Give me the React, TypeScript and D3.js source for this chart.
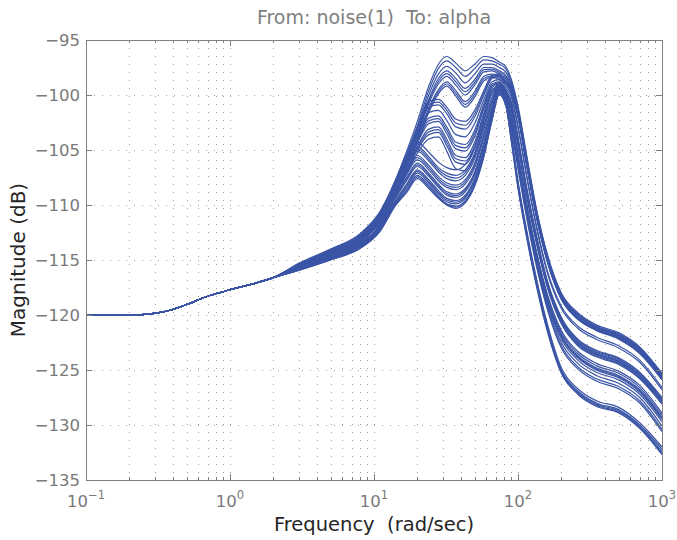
import React from "react";
import * as d3 from "d3";

// ---- data (rad/sec, dB) ----
const LOW_FREQ = [0.1, 0.2, 0.3, 0.4, 0.5, 0.7, 1, 1.5, 2];
const LOW_MAG = [-120, -120, -119.85, -119.5, -119.05, -118.3, -117.7, -117.1, -116.6];

const HIGH_FREQ = [3, 5, 8, 11, 14, 17, 20, 24, 28, 32, 37, 43, 50, 58, 66, 74, 82, 90, 100, 115, 135, 160, 200, 260, 350, 500, 700, 1000];

const curve00 = [-115.3, -114.0, -112.6, -110.6, -107.8, -105.0, -102.4, -99.2, -97.2, -96.5, -97.1, -97.8, -97.2, -96.5, -96.6, -97.0, -97.4, -98.6, -101.0, -105.5, -110.5, -114.5, -118.0, -119.8, -120.9, -121.6, -122.9, -125.3];
const curve01 = [-115.35, -114.05, -112.7, -110.7, -107.9, -105.2, -102.8, -99.6, -97.6, -96.9, -97.5, -98.3, -97.6, -96.8, -96.9, -97.2, -97.6, -98.8, -101.2, -105.7, -110.6, -114.6, -118.1, -119.9, -121.0, -121.7, -123.0, -125.4];
const curve02 = [-115.4, -114.1, -112.75, -110.8, -108.0, -105.4, -103.1, -100.0, -98.1, -97.4, -98.0, -98.9, -98.1, -97.2, -97.2, -97.5, -97.9, -99.0, -101.4, -105.9, -110.7, -114.7, -118.2, -120.0, -121.1, -121.8, -123.1, -125.5];
const curve03 = [-115.4, -114.15, -112.8, -110.85, -108.1, -105.6, -103.4, -100.4, -98.5, -97.8, -98.5, -99.4, -98.6, -97.5, -97.5, -97.8, -98.2, -99.2, -101.5, -106.0, -110.8, -114.8, -118.2, -120.0, -121.1, -121.8, -123.1, -125.5];
const curve04 = [-115.45, -114.2, -112.9, -110.9, -108.2, -105.8, -103.7, -100.8, -99.0, -98.3, -99.1, -100.0, -99.1, -97.9, -97.8, -98.1, -98.5, -99.4, -101.7, -106.1, -110.9, -114.9, -118.3, -120.1, -121.2, -121.9, -123.2, -125.6];
const curve05 = [-115.45, -114.25, -112.95, -111.0, -108.3, -106.0, -104.0, -101.2, -99.5, -98.8, -99.6, -100.6, -99.7, -98.3, -98.1, -98.3, -98.8, -99.6, -101.8, -106.2, -111.0, -115.0, -118.4, -120.2, -121.3, -122.0, -123.3, -125.7];
const curve06 = [-115.5, -114.3, -113.0, -111.05, -108.4, -106.2, -104.3, -101.6, -99.9, -99.2, -100.1, -101.1, -100.2, -98.7, -98.4, -98.6, -99.0, -99.8, -102.0, -106.3, -111.1, -115.1, -118.5, -120.3, -121.4, -122.1, -123.4, -125.8];
const curve07 = [-115.5, -114.35, -113.05, -111.1, -108.3, -105.6, -103.0, -100.6, -100.4, -101.1, -102.2, -102.4, -101.4, -99.6, -98.2, -98.1, -98.7, -99.4, -101.8, -106.3, -111.1, -115.1, -118.5, -120.3, -121.3, -122.0, -123.4, -125.8];
const curve08 = [-115.55, -114.4, -113.1, -111.2, -108.5, -105.9, -103.4, -101.1, -100.9, -101.7, -102.9, -103.1, -102.0, -100.0, -98.5, -98.3, -98.9, -99.6, -102.0, -106.5, -111.3, -115.2, -118.6, -120.4, -121.4, -122.2, -123.5, -125.9];
const curve09 = [-115.55, -114.45, -113.15, -111.3, -108.6, -106.1, -103.8, -101.6, -101.4, -102.3, -103.6, -103.8, -102.6, -100.4, -98.8, -98.6, -99.2, -100.0, -102.8, -107.3, -112.0, -116.0, -119.2, -121.0, -122.0, -122.8, -124.1, -126.6];
const curve10 = [-115.6, -114.5, -113.2, -111.35, -108.7, -106.3, -104.1, -102.1, -101.9, -102.9, -104.3, -104.5, -103.2, -100.8, -99.0, -98.8, -99.4, -100.2, -103.0, -107.5, -112.2, -116.2, -119.4, -121.2, -122.2, -123.0, -124.3, -126.8];
const curve11 = [-115.6, -114.55, -113.25, -111.4, -108.8, -106.5, -104.4, -102.6, -102.4, -103.5, -104.9, -105.1, -103.8, -101.2, -99.3, -99.0, -99.6, -100.8, -104.0, -108.6, -113.0, -117.0, -120.3, -122.3, -123.3, -124.0, -125.3, -127.6];
const curve12 = [-115.65, -114.6, -113.3, -111.5, -108.9, -106.7, -104.7, -103.1, -102.9, -104.0, -105.5, -105.7, -104.3, -101.6, -99.5, -99.2, -99.8, -101.0, -104.2, -108.8, -113.2, -117.2, -120.5, -122.5, -123.5, -124.2, -125.5, -127.8];
const curve13 = [-115.65, -114.65, -113.35, -111.55, -109.0, -106.9, -105.0, -103.6, -103.4, -104.6, -106.1, -106.3, -104.9, -102.0, -99.7, -99.3, -99.9, -101.2, -104.4, -109.0, -113.4, -117.3, -120.6, -122.6, -123.6, -124.3, -125.6, -127.9];
const curve14 = [-115.7, -114.7, -113.4, -111.6, -109.1, -107.1, -105.3, -104.0, -103.8, -105.1, -106.7, -106.9, -105.4, -102.4, -99.9, -99.5, -100.1, -101.4, -104.6, -109.2, -113.6, -117.5, -120.8, -122.8, -123.8, -124.5, -125.8, -128.1];
const curve15 = [-115.7, -114.7, -113.45, -111.7, -108.3, -105.5, -104.3, -105.2, -106.1, -106.6, -106.8, -106.3, -104.8, -102.3, -100.2, -98.8, -99.6, -101.0, -104.2, -108.8, -113.2, -117.2, -120.4, -122.4, -123.4, -124.1, -125.4, -127.7];
const curve16 = [-115.7, -114.75, -113.5, -111.75, -108.5, -105.9, -104.7, -105.6, -106.6, -107.1, -107.3, -106.8, -105.3, -102.7, -100.5, -99.0, -99.8, -101.3, -104.5, -109.1, -113.5, -117.4, -120.7, -122.7, -123.7, -124.4, -125.7, -128.0];
const curve17 = [-115.75, -114.75, -113.55, -111.85, -108.7, -106.3, -105.1, -106.0, -107.0, -107.6, -107.8, -107.3, -105.8, -103.1, -100.8, -99.1, -99.9, -102.0, -105.5, -110.0, -114.5, -118.3, -121.6, -123.5, -124.6, -125.3, -126.6, -129.1];
const curve18 = [-115.75, -114.8, -113.6, -111.9, -108.9, -106.7, -105.5, -106.4, -107.4, -108.0, -108.2, -107.7, -106.2, -103.5, -101.1, -99.3, -100.1, -102.2, -105.7, -110.2, -114.7, -118.5, -121.8, -123.7, -124.8, -125.5, -126.8, -129.3];
const curve19 = [-115.8, -114.8, -113.65, -112.0, -109.1, -107.1, -105.9, -106.8, -107.8, -108.4, -108.6, -108.1, -106.6, -103.9, -101.4, -99.4, -100.2, -102.4, -105.9, -110.4, -114.9, -118.7, -122.0, -123.9, -125.0, -125.7, -127.0, -129.5];
const curve20 = [-115.8, -114.85, -113.7, -112.05, -109.3, -107.4, -106.2, -107.1, -108.1, -108.8, -109.0, -108.5, -107.0, -104.3, -101.6, -99.5, -100.3, -102.6, -106.1, -110.6, -115.1, -118.9, -122.2, -124.1, -125.2, -125.9, -127.2, -129.7];
const curve21 = [-115.85, -114.85, -113.75, -112.1, -109.5, -107.7, -106.5, -107.4, -108.4, -109.1, -109.3, -108.8, -107.3, -104.6, -101.8, -99.6, -100.4, -102.9, -106.5, -111.0, -115.5, -119.3, -122.8, -124.7, -125.8, -126.5, -127.8, -130.4];
const curve22 = [-115.85, -114.9, -113.8, -112.2, -109.7, -108.0, -106.8, -107.7, -108.7, -109.4, -109.6, -109.1, -107.6, -104.9, -102.0, -99.7, -100.5, -103.1, -106.7, -111.2, -115.7, -119.5, -123.0, -124.9, -126.0, -126.7, -128.0, -130.6];
const curve23 = [-115.9, -114.9, -113.85, -112.3, -109.9, -108.3, -107.1, -108.0, -109.0, -109.7, -109.9, -109.4, -107.9, -105.2, -102.1, -99.8, -100.7, -103.8, -108.0, -112.5, -117.0, -121.0, -125.0, -126.9, -128.0, -128.6, -130.0, -132.2];
const curve24 = [-115.9, -114.95, -113.9, -112.35, -110.0, -108.5, -107.3, -108.2, -109.2, -109.9, -110.1, -109.6, -108.1, -105.4, -102.2, -99.9, -100.8, -104.0, -108.2, -112.7, -117.2, -121.2, -125.1, -127.0, -128.1, -128.7, -130.1, -132.4];
const curve25 = [-115.95, -115.0, -113.95, -112.4, -110.1, -108.8, -107.6, -108.5, -109.4, -110.0, -110.3, -109.8, -108.3, -105.6, -102.3, -100.0, -100.9, -104.3, -108.5, -113.0, -117.5, -121.5, -125.3, -127.2, -128.3, -128.9, -130.3, -132.7];
const curve26 = [-115.42, -114.17, -112.85, -110.88, -108.15, -105.7, -103.55, -100.6, -98.75, -98.05, -98.8, -99.7, -98.85, -97.7, -97.65, -97.95, -98.35, -99.3, -101.6, -106.05, -110.85, -114.85, -118.25, -120.05, -121.15, -121.85, -123.15, -125.55];
const curve27 = [-115.48, -114.28, -112.98, -111.02, -108.35, -106.1, -104.15, -101.4, -99.7, -99.0, -99.85, -100.85, -99.95, -98.5, -98.25, -98.45, -98.9, -99.7, -101.9, -106.25, -111.05, -115.05, -118.45, -120.25, -121.35, -122.05, -123.35, -125.75];
const curve28 = [-115.52, -114.38, -113.08, -111.15, -108.4, -105.75, -103.2, -100.85, -100.65, -101.4, -102.55, -102.75, -101.7, -99.8, -98.35, -98.2, -98.8, -99.5, -101.9, -106.4, -111.2, -115.15, -118.55, -120.35, -121.35, -122.1, -123.45, -125.85];
const curve29 = [-115.6, -114.52, -113.22, -111.38, -108.75, -106.4, -104.25, -102.35, -102.15, -103.2, -104.6, -104.8, -103.5, -101.0, -99.15, -98.9, -99.5, -100.6, -103.8, -108.4, -112.9, -116.9, -120.2, -122.2, -123.2, -123.9, -125.2, -127.5];
const curve30 = [-115.65, -114.62, -113.32, -111.52, -108.95, -106.8, -104.85, -103.35, -103.15, -104.3, -105.8, -106.0, -104.6, -101.8, -99.6, -99.25, -99.85, -101.1, -104.3, -108.9, -113.3, -117.25, -120.55, -122.55, -123.55, -124.25, -125.55, -127.85];
const curve31 = [-115.72, -114.75, -113.52, -111.8, -108.6, -106.1, -104.9, -105.8, -106.8, -107.35, -107.55, -107.05, -105.55, -102.9, -100.65, -99.05, -99.85, -101.8, -105.3, -109.8, -114.3, -118.1, -121.4, -123.3, -124.4, -125.1, -126.4, -128.9];
const curve32 = [-115.78, -114.8, -113.62, -111.95, -109.0, -106.9, -105.7, -106.6, -107.6, -108.2, -108.4, -107.9, -106.4, -103.7, -101.25, -99.35, -100.15, -102.3, -105.8, -110.3, -114.8, -118.6, -121.9, -123.8, -124.9, -125.6, -126.9, -129.4];
const curve33 = [-115.82, -114.85, -113.72, -112.08, -109.4, -107.55, -106.35, -107.25, -108.25, -108.95, -109.15, -108.65, -107.15, -104.45, -101.7, -99.55, -100.35, -102.8, -106.3, -110.8, -115.3, -119.1, -122.5, -124.4, -125.5, -126.2, -127.5, -130.1];
const curve34 = [-115.88, -114.9, -113.82, -112.25, -109.8, -108.15, -106.95, -107.85, -108.85, -109.55, -109.75, -109.25, -107.75, -105.05, -102.05, -99.75, -100.6, -103.6, -107.8, -112.3, -116.8, -120.8, -124.8, -126.7, -127.8, -128.4, -129.8, -132.0];
const curve35 = [-115.92, -114.98, -113.92, -112.38, -110.05, -108.65, -107.45, -108.35, -109.3, -109.95, -110.2, -109.7, -108.2, -105.5, -102.25, -99.95, -100.85, -104.15, -108.35, -112.85, -117.35, -121.35, -125.2, -127.1, -128.2, -128.8, -130.2, -132.55];

const CURVES = [
  curve00, curve01, curve02, curve03, curve04, curve05, curve06, curve07, curve08,
  curve09, curve10, curve11, curve12, curve13, curve14, curve15, curve16, curve17,
  curve18, curve19, curve20, curve21, curve22, curve23, curve24, curve25, curve26,
  curve27, curve28, curve29, curve30, curve31, curve32, curve33, curve34, curve35,
];

const Y_TICKS = [-135, -130, -125, -120, -115, -110, -105, -100, -95];
const X_DECADES = [-1, 0, 1, 2, 3];
const TITLE = "From: noise(1)\u00a0 To: alpha";
const X_LABEL = "Frequency\u00a0 (rad/sec)";
const Y_LABEL = "Magnitude (dB)";

// ---- layout ----
const W = 677;
const H = 540;
const L = 86;
const R = 662;
const T = 40;
const B = 480;
const LINE_COLOR = "#3b55a6";
const AXIS_COLOR = "#7f7f7f";
const FONT = "'DejaVu Sans', sans-serif";

export default function App() {
  const x = d3.scaleLog().domain([0.1, 1000]).range([L, R]);
  const y = d3.scaleLinear().domain([-135, -95]).range([B, T]);

  const minorX: number[] = [];
  X_DECADES.slice(0, -1).forEach((e) => {
    for (let k = 2; k <= 9; k++) minorX.push(k * Math.pow(10, e));
  });
  const majorX = X_DECADES.map((e) => Math.pow(10, e));

  const line = d3
    .line<[number, number]>()
    .x((d) => x(d[0]))
    .y((d) => y(d[1]))
    .curve(d3.curveMonotoneX);

  const series = CURVES.map((c) => {
    const pts: [number, number][] = [];
    LOW_FREQ.forEach((f, i) => pts.push([f, LOW_MAG[i]]));
    HIGH_FREQ.forEach((f, i) => pts.push([f, c[i]]));
    return pts;
  });

  const px = (v: number) => Math.round(v) + 0.5;

  return (
    <svg
      width={W}
      height={H}
      style={{ position: "absolute", left: 0, top: 0, background: "#fff" }}
      fontFamily={FONT}
    >
      <rect x={0} y={0} width={W} height={H} fill="#fff" />
      <defs>
        <clipPath id="plotclip">
          <rect x={L} y={T} width={R - L} height={B - T} />
        </clipPath>
      </defs>

      {/* grid */}
      <g stroke="#a0a0a0" strokeWidth={1} fill="none">
        {[...minorX, ...majorX.slice(1, -1)].map((v, i) => (
          <line key={"gx" + i} x1={px(x(v))} x2={px(x(v))} y1={T} y2={B} strokeDasharray="1,7" />
        ))}
        {Y_TICKS.slice(1, -1).map((v, i) => (
          <line key={"gy" + i} x1={L} x2={R} y1={px(y(v))} y2={px(y(v))} strokeDasharray="1,7" />
        ))}
      </g>

      {/* curves */}
      <g clipPath="url(#plotclip)" fill="none" stroke={LINE_COLOR} strokeWidth={1.2}>
        {series.map((s, i) => (
          <path key={i} d={line(s) || ""} />
        ))}
      </g>

      {/* axes box and ticks */}
      <g stroke={AXIS_COLOR} strokeWidth={1} fill="none">
        <rect x={px(L)} y={px(T)} width={R - L} height={B - T} />
        {Y_TICKS.map((v, i) => (
          <g key={"ty" + i}>
            <line x1={L} x2={L + 6} y1={px(y(v))} y2={px(y(v))} />
            <line x1={R - 6} x2={R} y1={px(y(v))} y2={px(y(v))} />
          </g>
        ))}
        {majorX.map((v, i) => (
          <g key={"tx" + i}>
            <line x1={px(x(v))} x2={px(x(v))} y1={B} y2={B - 6} />
            <line x1={px(x(v))} x2={px(x(v))} y1={T} y2={T + 6} />
          </g>
        ))}
        {minorX.map((v, i) => (
          <g key={"tm" + i}>
            <line x1={px(x(v))} x2={px(x(v))} y1={B} y2={B - 3} />
            <line x1={px(x(v))} x2={px(x(v))} y1={T} y2={T + 3} />
          </g>
        ))}
      </g>

      {/* y tick labels */}
      <g fill="#7a7a7a" fontSize={16.5} textAnchor="end">
        {Y_TICKS.map((v, i) => (
          <text key={"ly" + i} x={L - 6} y={y(v) + 6}>
            {v < 0 ? "\u2212" + Math.abs(v) : String(v)}
          </text>
        ))}
      </g>

      {/* x tick labels */}
      <g fill="#7a7a7a" fontSize={16.5} textAnchor="middle">
        {X_DECADES.map((e, i) => (
          <text key={"lx" + i} x={x(Math.pow(10, e))} y={507}>
            <tspan>10</tspan>
            <tspan fontSize={11.5} dy={-8}>
              {e < 0 ? "\u2212" + Math.abs(e) : String(e)}
            </tspan>
          </text>
        ))}
      </g>

      {/* title and axis labels */}
      <text x={(L + R) / 2} y={24} textAnchor="middle" fontSize={19} fill="#808080">
        {TITLE}
      </text>
      <text x={(L + R) / 2} y={531} textAnchor="middle" fontSize={19.5} fill="#262626">
        {X_LABEL}
      </text>
      <text
        transform={`translate(25, ${(T + B) / 2}) rotate(-90)`}
        textAnchor="middle"
        fontSize={20}
        fill="#262626"
      >
        {Y_LABEL}
      </text>
    </svg>
  );
}
